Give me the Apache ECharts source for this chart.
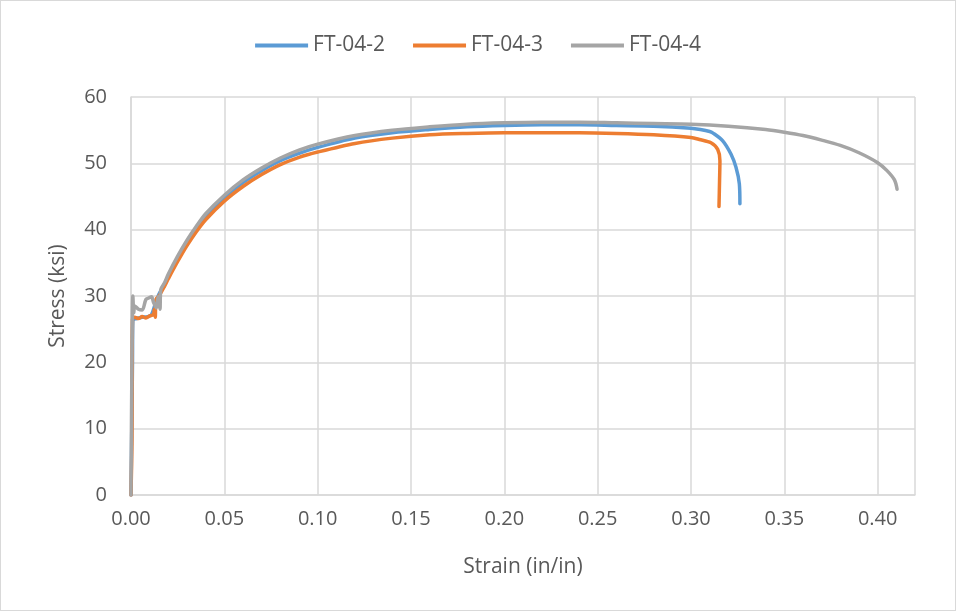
<!DOCTYPE html>
<html>
<head>
<meta charset="utf-8">
<script src="https://cdn.jsdelivr.net/npm/echarts@6/dist/echarts.min.js"></script>
<style>
  html, body { margin: 0; padding: 0; background: #fff; }
  #chart { width: 954px; height: 609px; border: 1px solid #d9d9d9; }
</style>
</head>
<body>
<div id="chart"></div>
<script>
// FT-04-2 (blue)
const strain2 = [0, 0.0008, 0.001, 0.003, 0.006, 0.009, 0.011, 0.013, 0.015, 0.018, 0.02, 0.025, 0.03, 0.035, 0.04, 0.05, 0.06, 0.07, 0.08, 0.09, 0.10, 0.12, 0.14, 0.16, 0.18, 0.20, 0.22, 0.24, 0.26, 0.28, 0.30, 0.305, 0.31, 0.3116, 0.317, 0.3214, 0.3241, 0.3259, 0.3262];
const stress2 = [0, 20, 26.4, 26.6, 26.8, 26.9, 27.2, 28.8, 30.3, 31.8, 33.0, 35.7, 38.1, 40.2, 42.0, 44.8, 47.1, 48.9, 50.4, 51.5, 52.4, 53.8, 54.6, 55.1, 55.5, 55.7, 55.8, 55.8, 55.7, 55.6, 55.3, 55.1, 54.8, 54.6, 53.4, 51.4, 49.4, 46.9, 43.9];

// FT-04-3 (orange)
const strain3 = [0, 0.0005, 0.0008, 0.002, 0.004, 0.006, 0.008, 0.010, 0.012, 0.0125, 0.013, 0.0134, 0.015, 0.018, 0.02, 0.025, 0.03, 0.035, 0.04, 0.05, 0.06, 0.07, 0.08, 0.09, 0.10, 0.12, 0.14, 0.16, 0.18, 0.20, 0.22, 0.24, 0.26, 0.28, 0.30, 0.3045, 0.3107, 0.3143, 0.3155, 0.3153, 0.315];
const stress3 = [0, 8, 26.5, 26.8, 26.6, 26.9, 26.7, 27.0, 27.2, 28.0, 26.8, 29.5, 30.0, 31.5, 32.6, 35.2, 37.6, 39.7, 41.5, 44.3, 46.5, 48.3, 49.8, 50.9, 51.7, 53.0, 53.8, 54.3, 54.5, 54.6, 54.6, 54.6, 54.5, 54.3, 53.9, 53.6, 53.1, 52.1, 50.4, 47.4, 43.5];

// FT-04-4 (gray)
const strain4 = [0, 0.0005, 0.001, 0.0015, 0.002, 0.004, 0.006, 0.008, 0.0095, 0.011, 0.012, 0.0135, 0.0145, 0.0155, 0.016, 0.018, 0.02, 0.025, 0.03, 0.035, 0.04, 0.05, 0.06, 0.07, 0.08, 0.09, 0.10, 0.12, 0.14, 0.16, 0.18, 0.20, 0.22, 0.24, 0.26, 0.28, 0.30, 0.32, 0.34, 0.35, 0.36, 0.37, 0.38, 0.39, 0.40, 0.405, 0.409, 0.4104];
const stress4 = [0, 20, 30.0, 27.5, 28.5, 28.0, 27.9, 29.5, 29.7, 29.9, 29.1, 28.2, 29.9, 28.0, 31.0, 32.0, 33.3, 36.0, 38.4, 40.5, 42.4, 45.2, 47.5, 49.3, 50.8, 52.0, 52.9, 54.2, 55.0, 55.5, 55.9, 56.1, 56.2, 56.2, 56.1, 56.0, 55.9, 55.6, 55.1, 54.7, 54.2, 53.5, 52.7, 51.6, 50.1, 48.9, 47.5, 46.1];

const seriesNames = ['FT-04-2', 'FT-04-3', 'FT-04-4'];
const colors = ['#5B9BD5', '#ED7D31', '#A5A5A5'];

function pairs(xs, ys) {
  return xs.map((x, i) => [x, ys[i]]);
}

const font = '"Open Sans", sans-serif';
const chart = echarts.init(document.getElementById('chart'));

function lineSeries(i, xs, ys) {
  return {
    name: seriesNames[i],
    type: 'line',
    data: pairs(xs, ys),
    showSymbol: false,
    symbol: 'none',
    smooth: 0.3,
    lineStyle: { width: 3.5, cap: 'round', join: 'round' }
  };
}

chart.setOption({
  animation: false,
  color: colors,
  textStyle: { fontFamily: font },
  legend: {
    top: 29,
    left: 'center',
    icon: 'rect',
    itemWidth: 53,
    itemHeight: 4,
    itemGap: 28,
    textStyle: { fontSize: 21, color: '#595959', fontFamily: font },
    data: seriesNames
  },
  grid: { left: 130, right: 40, top: 96, bottom: 115 },
  xAxis: {
    type: 'value',
    min: 0,
    max: 0.42,
    interval: 0.05,
    name: 'Strain (in/in)',
    nameLocation: 'middle',
    nameGap: 62,
    nameTextStyle: { fontSize: 21, color: '#595959', fontFamily: font },
    axisLine: { lineStyle: { color: '#d9d9d9', width: 1.5 } },
    axisTick: { show: false },
    axisLabel: {
      fontSize: 20,
      color: '#595959',
      margin: 14,
      showMaxLabel: false,
      formatter: v => v.toFixed(2)
    },
    splitLine: { lineStyle: { color: '#d9d9d9', width: 1.5 } }
  },
  yAxis: {
    type: 'value',
    min: 0,
    max: 60,
    interval: 10,
    name: 'Stress (ksi)',
    nameLocation: 'middle',
    nameGap: 62,
    nameTextStyle: { fontSize: 21, color: '#595959', fontFamily: font },
    axisLine: { show: true, lineStyle: { color: '#d9d9d9', width: 1.5 } },
    axisTick: { show: false },
    axisLabel: { fontSize: 20, color: '#595959', margin: 24 },
    splitLine: { lineStyle: { color: '#d9d9d9', width: 1.5 } }
  },
  series: [
    lineSeries(0, strain2, stress2),
    lineSeries(1, strain3, stress3),
    lineSeries(2, strain4, stress4)
  ]
});
</script>
</body>
</html>
